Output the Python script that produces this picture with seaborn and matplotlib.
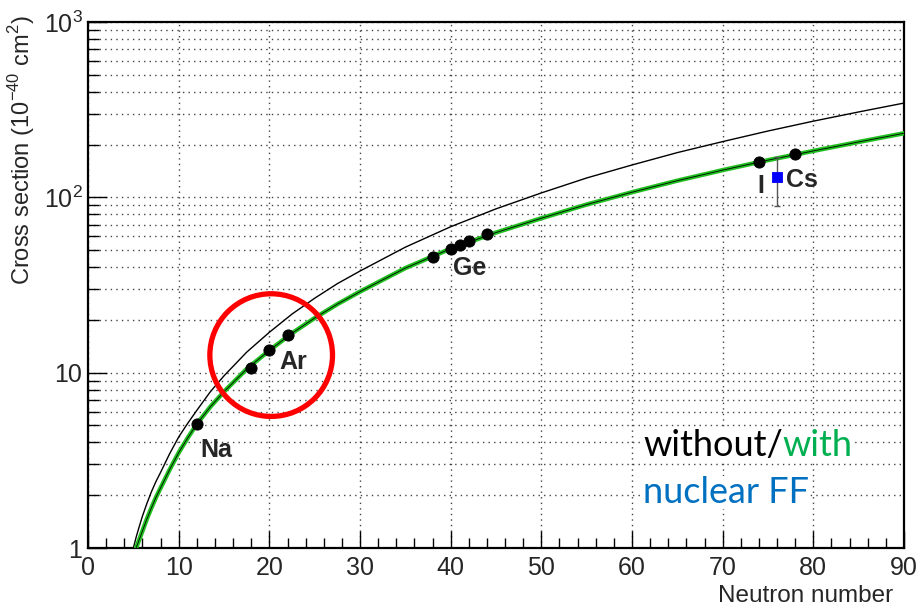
import math
import matplotlib
matplotlib.use('Agg')
import matplotlib.pyplot as plt
import seaborn as sns
import pandas as pd
from matplotlib.ticker import FixedLocator, LogLocator, FuncFormatter, NullFormatter

# Curves: without form factor (black) and with it (green)
curve_n_noff = [5.0, 5.3, 5.6, 6, 6.5, 7, 7.5, 8, 9, 10, 11, 12, 13.5, 15, 17.5, 20, 22.5, 25, 27.5, 30, 35, 40, 45, 50, 55, 60, 65, 70, 75, 80, 85, 90]
curve_xs_noff = [1.0, 1.15, 1.3, 1.52, 1.8, 2.1, 2.4, 2.7, 3.45, 4.3, 5.15, 6.1, 7.8, 9.6, 13.1, 17, 21.6, 26.6, 32.2, 38, 52, 68, 86, 106, 129, 153, 180, 208, 239, 272, 307, 345]
curve_n_ff = [5.3, 5.6, 6, 6.5, 7, 7.5, 8, 9, 10, 11, 12, 13.5, 15, 17.5, 20, 22.5, 25, 27.5, 30, 35, 40, 45, 50, 55, 60, 65, 70, 75, 80, 85, 90]
curve_xs_ff = [1.0, 1.1, 1.25, 1.47, 1.7, 1.95, 2.2, 2.8, 3.5, 4.25, 5.1, 6.4, 7.8, 10.5, 13.4, 16.8, 20.5, 24.6, 29, 39.5, 51, 63, 76, 91, 107, 124.5, 143, 163, 184, 207, 232]

# Target isotopes
iso_n = [12, 18, 20, 22, 38, 40, 41, 42, 44, 74, 78]
iso_xs = [5.1, 10.7, 13.4, 16.3, 45.5, 50.8, 53.5, 56.4, 61.6, 160, 177]

# Measured point (CsI)
meas_n = [76]
meas_xs = [130]
meas_err = [41]

labels = ['Na', 'Ar', 'Ge', 'I', 'Cs']
label_n = [14.1, 22.6, 42.1, 74.2, 78.7]
label_xs = [3.62, 11.5, 39.6, 116, 125]

sns.set_style('white')
plt.rcParams['font.family'] = ['Liberation Sans', 'DejaVu Sans']
plt.rcParams['mathtext.fontset'] = 'custom'
plt.rcParams['mathtext.rm'] = 'Liberation Sans'

fig = plt.figure(figsize=(9.19, 6.10), dpi=100)
ax = fig.add_axes([0.0958, 0.1016, 0.8879, 0.8623])

df_a = pd.DataFrame({'N': curve_n_noff, 'xs': curve_xs_noff})
df_b = pd.DataFrame({'N': curve_n_ff, 'xs': curve_xs_ff})
sns.lineplot(data=df_a, x='N', y='xs', color='black', linewidth=1.0, ax=ax, zorder=3)
sns.lineplot(data=df_b, x='N', y='xs', color='#1fc01f', linewidth=3.2, ax=ax, zorder=3)
sns.lineplot(data=df_b, x='N', y='xs', color='black', linewidth=0.6, ax=ax, zorder=4)

sns.scatterplot(x=iso_n, y=iso_xs, color='black', s=65, edgecolor='black', ax=ax, zorder=5)

ax.errorbar(meas_n, meas_xs, yerr=meas_err, fmt='none', ecolor='#555555', elinewidth=1, capsize=2.5, zorder=5)
sns.scatterplot(x=meas_n, y=meas_xs, color='#0000ff', marker='s', s=60, edgecolor='#0000ff', ax=ax, zorder=6)

for lab, xn, yv in zip(labels, label_n, label_xs):
    ax.text(xn, yv, lab, fontsize=18, fontweight='bold', ha='center', va='center', zorder=6)

# red circle around the Ar points
ax.scatter([20.2], [12.6], s=7800, facecolors='none', edgecolors='#ff0000', linewidths=3.8, zorder=7)

ax.set_yscale('log')
ax.set_xlim(0, 90)
ax.set_ylim(1, 1000)

ax.xaxis.set_major_locator(FixedLocator(range(0, 91, 10)))
ax.xaxis.set_minor_locator(FixedLocator(range(0, 91, 2)))
ax.yaxis.set_major_locator(LogLocator(base=10))
ax.yaxis.set_minor_locator(LogLocator(base=10, subs=range(2, 10)))
ax.yaxis.set_minor_formatter(NullFormatter())


def ylab(v, _):
    if v == 1:
        return '1'
    if v == 10:
        return '10'
    return '10$^{%d}$' % round(math.log10(v))


ax.yaxis.set_major_formatter(FuncFormatter(ylab))

ax.tick_params(axis='both', which='both', direction='in', labelsize=18, color='black',
               bottom=True, left=True, top=False, right=False)
ax.tick_params(axis='x', which='major', length=12, width=1, pad=6)
ax.tick_params(axis='x', which='minor', length=7, width=1)
ax.tick_params(axis='y', which='major', length=14, width=1, pad=4)
ax.tick_params(axis='y', which='minor', length=8, width=1)

ax.grid(True, axis='x', which='major', linestyle=(0, (1, 3)), color='#444444', linewidth=1)
ax.grid(True, axis='y', which='both', linestyle=(0, (1, 3)), color='#444444', linewidth=1)
ax.set_axisbelow(True)

for sp in ax.spines.values():
    sp.set_color('black')
    sp.set_linewidth(1.6)
    sp.set_visible(True)

ax.set_xlabel('Neutron number', fontsize=17.5, loc='right')
ax.set_ylabel('Cross section (10$^{-40}$ cm$^{2}$)', fontsize=17, loc='top')
ax.yaxis.set_label_coords(-0.062, 1.012)
ax.xaxis.set_label_coords(0.987, -0.07)

# legend-like text
t1 = ax.text(0.68, 0.174, 'without/', transform=ax.transAxes, fontsize=26, family=['Lato', 'DejaVu Sans'],
             color='black', ha='left', va='baseline', zorder=8,
             bbox=dict(facecolor='white', edgecolor='none', pad=0))
ax.annotate('with', xy=(1, 0), xycoords=t1, fontsize=26, family=['Lato', 'DejaVu Sans'],
            color='#00b050', ha='left', va='bottom', zorder=8,
            bbox=dict(facecolor='white', edgecolor='none', pad=0))
ax.text(0.68, 0.086, 'nuclear FF', transform=ax.transAxes, fontsize=26, family=['Lato', 'DejaVu Sans'],
        color='#0070c0', ha='left', va='baseline', zorder=8,
        bbox=dict(facecolor='white', edgecolor='none', pad=0))

fig.savefig('out.png', dpi=100)
